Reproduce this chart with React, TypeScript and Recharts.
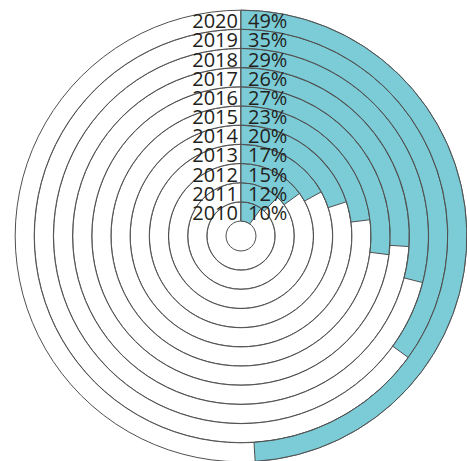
import { RadialBarChart, RadialBar, PolarAngleAxis, LabelList } from 'recharts'

const years = ['2010', '2011', '2012', '2013', '2014', '2015', '2016', '2017', '2018', '2019', '2020']
const shares = [10, 12, 15, 17, 20, 23, 27, 26, 29, 35, 49]

const data = years.map((year, i) => ({ year, value: shares[i], pct: `${shares[i]}%` }))

const TEAL = '#7bccd7'
const LINE = '#505050'
const FONT = '"Open Sans", "Noto Sans", sans-serif'

function ringLabel(side: 'year' | 'pct') {
  return (props: any) => {
    const vb = props.viewBox || {}
    const cx = vb.cx ?? props.cx
    const cy = vb.cy ?? props.cy
    const inner = vb.innerRadius ?? props.innerRadius
    if (cx == null || cy == null || inner == null) return null
    const y = cy - inner - 1
    return (
      <text
        x={side === 'year' ? cx - 3 : cx + 7}
        y={y}
        textAnchor={side === 'year' ? 'end' : 'start'}
        fontFamily={FONT}
        fontSize={20}
        fill="#231f20"
      >
        {props.value}
      </text>
    )
  }
}

export default function App() {
  return (
    <div style={{ position: 'absolute', left: 0, top: 0, width: 467, height: 461, background: '#fff' }}>
      <RadialBarChart
        width={467}
        height={461}
        data={data}
        cx={241}
        cy={236}
        innerRadius={15}
        outerRadius={226}
        startAngle={90}
        endAngle={-270}
        barCategoryGap={0}
        margin={{ top: 0, right: 0, bottom: 0, left: 0 }}
      >
        <PolarAngleAxis type="number" domain={[0, 100]} tick={false} axisLine={false} />
        <RadialBar
          dataKey="value"
          fill={TEAL}
          stroke={LINE}
          strokeWidth={1}
          background={{ fill: '#fff', stroke: LINE, strokeWidth: 1 }}
          isAnimationActive={false}
        >
          <LabelList dataKey="year" content={ringLabel('year')} />
          <LabelList dataKey="pct" content={ringLabel('pct')} />
        </RadialBar>
      </RadialBarChart>
    </div>
  )
}
